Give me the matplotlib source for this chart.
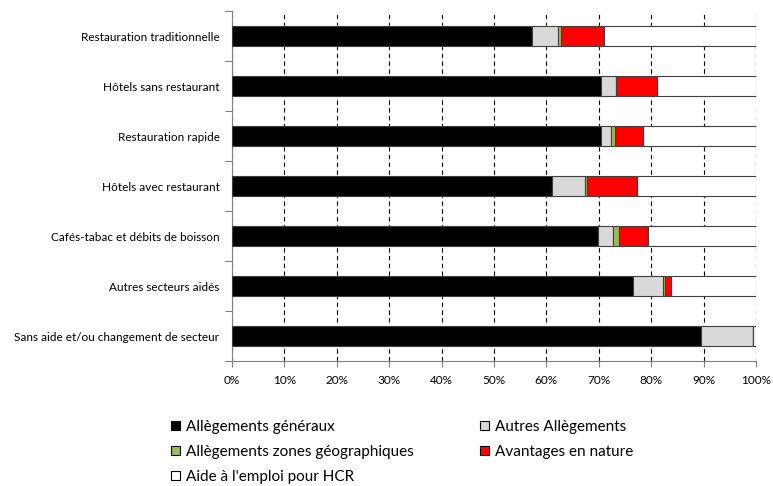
import matplotlib
matplotlib.use("Agg")
import matplotlib.pyplot as plt
from matplotlib.patches import Patch
from matplotlib.ticker import FixedLocator, PercentFormatter
import numpy as np

plt.rcParams['font.family'] = ['Lato', 'DejaVu Sans']

categories = ["Restauration traditionnelle", "Hôtels sans restaurant", "Restauration rapide",
              "Hôtels avec restaurant", "Cafés-tabac et débits de boisson",
              "Autres secteurs aidés", "Sans aide et/ou changement de secteur"]
series_names = ["Allègements généraux", "Autres Allègements", "Allègements zones géographiques",
                "Avantages en nature", "Aide à l'emploi pour HCR"]
generaux = [57.2, 70.4, 70.4, 61.1, 69.9, 76.6, 89.5]
autres = [5.0, 2.8, 2.0, 6.3, 2.9, 5.6, 10.0]
zones = [0.6, 0.1, 0.6, 0.3, 1.1, 0.5, 0.0]
avantages = [8.2, 7.8, 5.4, 9.6, 5.5, 1.1, 0.0]
aide_hcr = [29.0, 18.9, 21.6, 22.7, 20.6, 16.2, 0.5]
colors = ["#000000", "#d9d9d9", "#9bbb59", "#ff0000", "#ffffff"]

data = [generaux, autres, zones, avantages, aide_hcr]

W, H = 773, 486
fig = plt.figure(figsize=(W / 100, H / 100), dpi=100)
ax = fig.add_axes([232 / W, 1 - 361 / H, (756 - 232) / W, 350 / H])

y = np.arange(len(categories))
left = np.zeros(len(categories))
for vals, col in zip(data, colors):
    ax.barh(y, vals, left=left, height=0.4, color=col, edgecolor="#404040", linewidth=0.8, zorder=3)
    left += np.array(vals)

ax.set_ylim(len(categories) - 0.5, -0.5)
ax.set_xlim(0, 100)
ax.xaxis.set_major_locator(FixedLocator(np.arange(0, 101, 10)))
ax.xaxis.set_major_formatter(PercentFormatter(decimals=0))
ax.set_yticks(y)
ax.set_yticklabels(categories, fontsize=8.5)
ax.yaxis.set_minor_locator(FixedLocator(np.arange(-0.5, len(categories), 1)))
ax.tick_params(axis='y', which='major', length=0, pad=9)
ax.tick_params(axis='y', which='minor', length=5, color="#808080", width=0.8)
ax.tick_params(axis='x', length=4, color="#808080", width=0.8, labelsize=8.5, pad=6)
for s in ["top", "right"]:
    ax.spines[s].set_visible(False)
for s in ["left", "bottom"]:
    ax.spines[s].set_color("#808080")
    ax.spines[s].set_linewidth(0.8)
ax.grid(axis='x', which='major', linestyle=(0, (4, 3)), color="black", linewidth=0.8, zorder=0)

handles = [Patch(facecolor=c, edgecolor="black", linewidth=0.8) for c in colors]
common = dict(loc="upper left", frameon=False, fontsize=11, handlelength=0.6, handleheight=0.6,
              handletextpad=0.35, labelspacing=0.72, borderaxespad=0, borderpad=0)
leg1 = fig.legend([handles[i] for i in [0, 2, 4]], [series_names[i] for i in [0, 2, 4]],
                  bbox_to_anchor=(171 / W, 1 - 420 / H), **common)
leg2 = fig.legend([handles[i] for i in [1, 3]], [series_names[i] for i in [1, 3]],
                  bbox_to_anchor=(480 / W, 1 - 420 / H), **common)

fig.savefig("out.png", dpi=100)
